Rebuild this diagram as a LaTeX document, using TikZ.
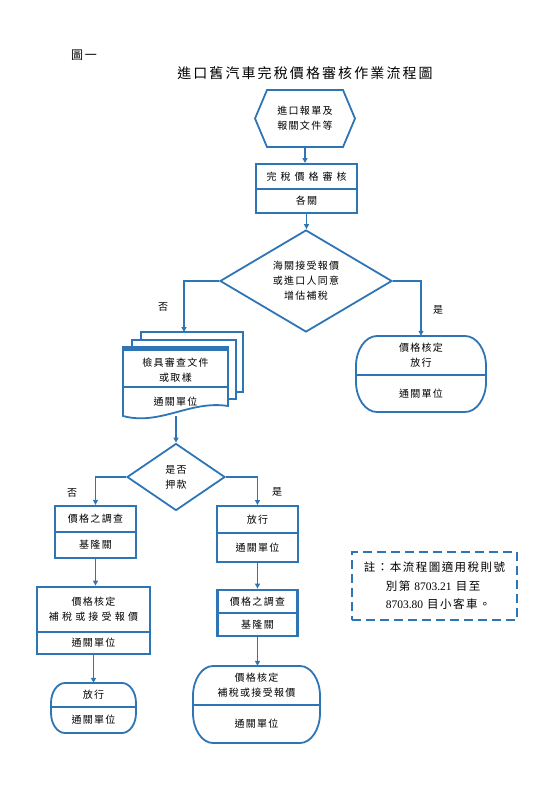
\documentclass[tikz,border=0pt]{standalone}
\usepackage{fontspec}
\setmainfont{Liberation Serif}
\newfontfamily\cjk{Noto Sans CJK TC}[LetterSpace=13]
\newfontfamily\cjkw{Noto Sans CJK TC}[LetterSpace=40]
\newfontfamily\cjkm{Noto Sans CJK TC}[LetterSpace=32]
\newfontfamily\cjkt{Noto Sans CJK TC}[LetterSpace=15]
\usetikzlibrary{shapes.geometric,arrows.meta,calc}
\definecolor{bl}{RGB}{46,117,182}
\newcommand\txt{\fontsize{10}{15}\selectfont\cjk}
\newcommand\termshape[7]{%
  \draw[termline,fill=white] (#1+#6,#3) -- (#2-#6,#3)
    .. controls (#2-0.45*#6,#3) and (#2,#3+0.45*#7) .. (#2,#3+#7) -- (#2,#5-#7)
    .. controls (#2,#5-0.45*#7) and (#2-0.45*#6,#5) .. (#2-#6,#5) -- (#1+#6,#5)
    .. controls (#1+0.45*#6,#5) and (#1,#5-0.45*#7) .. (#1,#5-#7) -- (#1,#3+#7)
    .. controls (#1,#3+0.45*#7) and (#1+0.45*#6,#3) .. (#1+#6,#3) -- cycle;
  \draw[termline] (#1,#4) -- (#2,#4);}
\tikzset{
  conn/.style={draw=bl, line width=1.5pt, -{Triangle[length=5pt,width=5pt]}},
  cell/.style={draw=bl, line width=2pt, inner sep=0pt, align=center, font=\txt},
  tcell/.style={inner sep=0pt, align=center, font=\txt},
  termline/.style={draw=bl, line width=1.8pt},
  dia/.style={diamond, draw=bl, line width=1.8pt, inner sep=0pt, align=center, font=\txt},
  lbl/.style={inner sep=0pt, font=\txt},
}
\begin{document}
\begin{tikzpicture}[x=1pt,y=-1pt]
\useasboundingbox (0,0) rectangle (559,792);

% headings
\node[inner sep=0pt, font=\fontsize{12}{14}\selectfont\cjk] (fig) at (84,55) {圖一};
\node[inner sep=0pt, font=\fontsize{14}{16}\selectfont\cjkt] (title) at (305,73) {進口舊汽車完稅價格審核作業流程圖};

% hexagon
\draw[termline] (255,118.5) -- (267,90) -- (343,90) -- (355,118.5) -- (343,147) -- (267,147) -- cycle;
\node[tcell, minimum width=100pt, minimum height=57pt] (hex) at (305,118.5) {進口報單及\\報關文件等};

% box 1
\node[cell, minimum width=101pt, minimum height=25pt, font=\fontsize{10}{15}\selectfont\cjkw] (b1a) at (306.5,176.5) {完稅價格審核};
\node[cell, minimum width=101pt, minimum height=24pt] (b1b) at (306.5,201) {各關};

% diamond 1
\node[dia, aspect=1.7, minimum width=172pt, minimum height=102pt] (d1) at (306,281) {海關接受報價\\或進口人同意\\增估補稅};

% multi document
\draw[termline, fill=white] (141,332) rectangle (243,392);
\draw[termline, fill=white] (132,340) rectangle (236,399);
\draw[termline, fill=white] (123,347) -- (228,347) -- (228,406)
   .. controls (190,400) and (160,426) .. (123,416) -- cycle;
\draw[bl, line width=4pt] (123,348.5) -- (228,348.5);
\draw[termline] (123,387) -- (228,387);
\node[tcell] (md1) at (175.5,370) {檢具審查文件\\或取樣};
\node[tcell] (md2) at (175.5,402) {通關單位};
\coordinate (mdtop) at (184,332);
\coordinate (mdbot) at (176,416);

% terminal 1
\termshape{356}{486}{336}{375}{412}{21}{30}
\node[tcell, minimum width=130pt, minimum height=39pt] (t1a) at (421,355.5) {價格核定\\放行};
\node[tcell, minimum width=130pt, minimum height=37pt] (t1b) at (421,393.5) {通關單位};

% diamond 2
\node[dia, aspect=1.46, minimum width=98pt, minimum height=67pt] (d2) at (176,477) {是否\\押款};

% left column
\node[cell, line width=2.2pt, minimum width=81pt, minimum height=26pt] (l1a) at (95.5,519) {價格之調查};
\node[cell, line width=2.2pt, minimum width=81pt, minimum height=26pt] (l1b) at (95.5,545) {基隆關};
\node[cell, line width=2.8pt, minimum width=113pt, minimum height=45pt] (l2a) at (93.5,609.5) {價格核定\\{\cjkm 補稅或接受報價}};
\node[cell, line width=2.8pt, minimum width=113pt, minimum height=22pt] (l2b) at (93.5,643) {通關單位};
\termshape{51}{136}{683}{707}{733}{14}{20}
\node[tcell, minimum width=85pt, minimum height=24pt] (l3a) at (93.5,695) {放行};
\node[tcell, minimum width=85pt, minimum height=26pt] (l3b) at (93.5,720) {通關單位};

% right column
\node[cell, minimum width=81pt, minimum height=27pt] (r1a) at (257.5,519.5) {放行};
\node[cell, minimum width=81pt, minimum height=29pt] (r1b) at (257.5,547.5) {通關單位};
\node[cell, line width=2.8pt, minimum width=80pt, minimum height=23pt] (r2a) at (257.5,601.5) {價格之調查};
\node[cell, line width=2.8pt, minimum width=80pt, minimum height=23pt] (r2b) at (257.5,624.5) {基隆關};
\termshape{193}{320}{666}{705}{743}{20}{30}
\node[tcell, minimum width=127pt, minimum height=39pt] (r3a) at (256.5,685.5) {價格核定\\補稅或接受報價};
\node[tcell, minimum width=127pt, minimum height=38pt] (r3b) at (256.5,724) {通關單位};

% note
\node[draw=bl, line width=1.8pt, dash pattern=on 9pt off 5pt, minimum width=165pt, minimum height=68pt, inner sep=0pt, align=left, font=\fontsize{11.5}{18.5}\selectfont\cjk] (note) at (434.5,586)
  {註：本流程圖適用稅則號\\\hspace*{22pt}別第 {\rmfamily 8703.21} 目至\\\hspace*{22pt}{\rmfamily 8703.80} 目小客車。};

% labels
\node[lbl] (no1) at (163,307) {否};
\node[lbl] (yes1) at (438,310) {是};
\node[lbl] (no2) at (72,493) {否};
\node[lbl] (yes2) at (277,492) {是};

% connectors
\draw[conn] (hex.south) -- (hex.south |- b1a.north);
\draw[conn] (b1b.south) -- (b1b.south |- d1.north);
\draw[conn] (d1.west) -| (mdtop);
\draw[conn] (d1.east) -| (t1a.north);
\draw[conn] (mdbot) -- (d2.north);
\draw[conn] (d2.west) -| (l1a.north);
\draw[conn] (d2.east) -| (r1a.north);
\draw[conn] (l1b.south) -- (l1b.south |- l2a.north);
\draw[conn] (l2b.south) -- (l2b.south |- l3a.north);
\draw[conn] (r1b.south) -- (r1b.south |- r2a.north);
\draw[conn] (r2b.south) -- (r2b.south |- r3a.north);
\end{tikzpicture}
\end{document}
